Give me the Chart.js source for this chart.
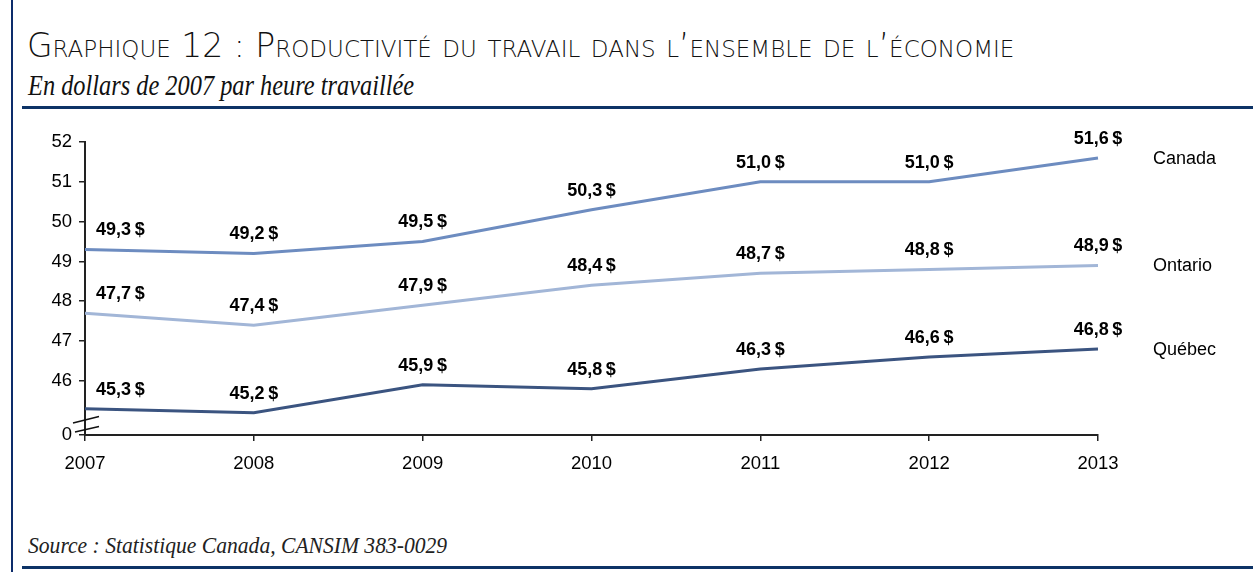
<!DOCTYPE html>
<html lang="fr">
<head>
<meta charset="utf-8">
<script src="https://cdn.jsdelivr.net/npm/chart.js@4/dist/chart.umd.min.js"></script>
<style>
  html,body{margin:0;padding:0;background:#fff;width:1253px;height:572px;overflow:hidden;}
  #wrap{position:relative;width:1253px;height:572px;}
  canvas{position:absolute;left:0;top:0;}
  .vline{position:absolute;left:11px;top:0;width:2px;height:572px;background:#0d2c6b;}
  .rule{position:absolute;left:22px;right:0;height:3px;background:#0d3366;}
  #title{position:absolute;left:27px;top:29px;line-height:33px;font-family:"DejaVu Sans",sans-serif;font-size:33px;font-variant:small-caps;color:#111;white-space:nowrap;letter-spacing:0px;font-weight:300;}
  #subtitle{position:absolute;left:28px;top:71px;line-height:29px;font-family:"Liberation Serif",serif;font-style:italic;font-size:29px;color:#111;white-space:nowrap;transform-origin:0 0;transform:scaleX(0.84);}
  #source{position:absolute;left:28px;top:533px;line-height:24px;font-family:"Liberation Serif",serif;font-style:italic;font-size:24px;color:#222;white-space:nowrap;transform-origin:0 0;transform:scaleX(0.9);}
</style>
</head>
<body>
<div id="wrap">
  <div class="vline"></div>
  <div class="rule" style="top:106px"></div>
  <div class="rule" style="top:566px"></div>
  <div id="title">Graphique 12 : Productivité du travail dans l’ensemble de l’économie</div>
  <div id="subtitle">En dollars de 2007 par heure travaillée</div>
  <div id="source">Source : Statistique Canada, CANSIM 383-0029</div>
  <canvas id="c" width="1253" height="572"></canvas>
</div>
<script>
const years = ["2007","2008","2009","2010","2011","2012","2013"];
const canada  = [49.3, 49.2, 49.5, 50.3, 51.0, 51.0, 51.6];
const ontario = [47.7, 47.4, 47.9, 48.4, 48.7, 48.8, 48.9];
const quebec  = [45.3, 45.2, 45.9, 45.8, 46.3, 46.6, 46.8];
const yTicks  = [44.64, 46, 47, 48, 49, 50, 51, 52];
const yBreakLabel = "0";

const fmt = v => v.toFixed(1).replace('.', ',') + '\u202F$';
const FONT = '"Liberation Sans", Arial, sans-serif';

const labelsPlugin = {
  id: 'pointLabels',
  afterDatasetsDraw(chart) {
    const ctx = chart.ctx;
    ctx.save();
    chart.data.datasets.forEach((ds, di) => {
      const meta = chart.getDatasetMeta(di);
      ctx.font = 'bold 18px ' + FONT;
      ctx.fillStyle = '#000';
      ctx.textBaseline = 'middle';
      meta.data.forEach((pt, i) => {
        const txt = fmt(ds.data[i]);
        if (i === 0) { ctx.textAlign = 'left'; ctx.fillText(txt, pt.x + 11, pt.y - 19); }
        else { ctx.textAlign = 'center'; ctx.fillText(txt, pt.x, pt.y - 19); }
      });
      const last = meta.data[meta.data.length - 1];
      ctx.font = '18px ' + FONT;
      ctx.textAlign = 'left';
      ctx.fillText(ds.label, last.x + 55, last.y + 1);
    });
    ctx.restore();
  }
};

const breakPlugin = {
  id: 'axisBreak',
  afterDraw(chart) {
    const ctx = chart.ctx;
    const x = chart.chartArea.left, b = chart.chartArea.bottom;
    ctx.save();
    ctx.strokeStyle = '#111';
    ctx.lineWidth = 1.5;
    ctx.beginPath();
    ctx.moveTo(x - 12, b - 12); ctx.lineTo(x + 14, b - 18.5);
    ctx.moveTo(x - 10, b - 3);  ctx.lineTo(x + 14, b - 8.5);
    ctx.stroke();
    ctx.restore();
  }
};

new Chart(document.getElementById('c'), {
  type: 'line',
  data: {
    labels: years,
    datasets: [
      { label: 'Canada',  data: canada,  borderColor: '#6d8cc0', borderWidth: 3 },
      { label: 'Ontario', data: ontario, borderColor: '#a2b6d7', borderWidth: 3 },
      { label: 'Québec',  data: quebec,  borderColor: '#3b5480', borderWidth: 3 }
    ]
  },
  options: {
    responsive: false,
    devicePixelRatio: 1,
    animation: false,
    elements: { point: { radius: 0 }, line: { tension: 0 } },
    layout: { padding: { top: 142, right: 155, left: 0, bottom: 0 } },
    plugins: { legend: { display: false }, tooltip: { enabled: false }, title: { display: false } },
    scales: {
      x: {
        offset: false,
        grid: { drawOnChartArea: false, drawTicks: true, tickLength: 6, color: '#222', lineWidth: 1.5 },
        border: { color: '#222', width: 2 },
        ticks: { color: '#000', font: { family: FONT, size: 18.5 }, padding: 12, maxRotation: 0 },
        afterFit(s) { s.height = 137; }
      },
      y: {
        min: yTicks[0], max: yTicks[yTicks.length - 1],
        grid: { drawOnChartArea: false, drawTicks: true, tickLength: 6, color: '#222', lineWidth: 1.5 },
        border: { color: '#222', width: 2 },
        ticks: {
          color: '#000', font: { family: FONT, size: 18.5 }, padding: 7,
          callback: v => (v < 45 ? yBreakLabel : String(v))
        },
        afterBuildTicks(s) { s.ticks = yTicks.map(v => ({ value: v })); },
        afterFit(s) { s.width = 85; }
      }
    }
  },
  plugins: [labelsPlugin, breakPlugin]
});
</script>
</body>
</html>
